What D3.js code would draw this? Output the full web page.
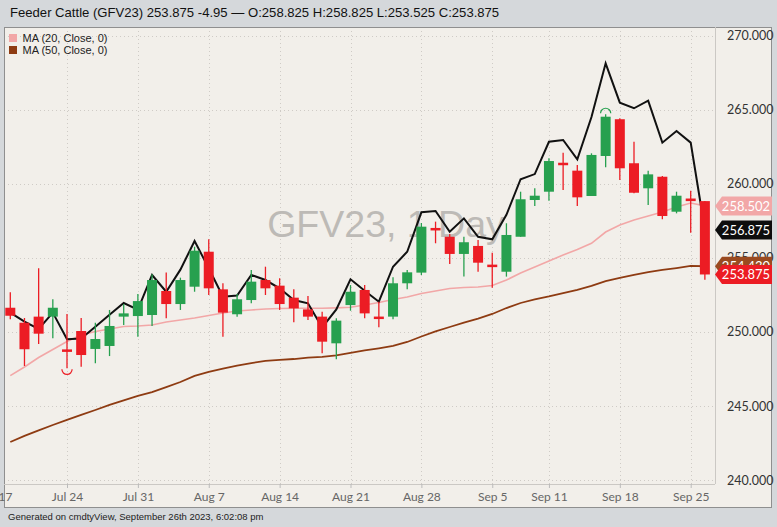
<!DOCTYPE html>
<html><head><meta charset="utf-8">
<script src="https://cdn.jsdelivr.net/npm/d3@7"></script>
<style>body{margin:0;background:#d5d8db;}svg{display:block}</style>
</head><body><svg id="c" width="777" height="527"></svg>
<script>
// ---------- DATA ----------
const dates = ["2023-07-18","2023-07-19","2023-07-20","2023-07-21","2023-07-24","2023-07-25","2023-07-26","2023-07-27","2023-07-28",
"2023-07-31","2023-08-01","2023-08-02","2023-08-03","2023-08-04","2023-08-07","2023-08-08","2023-08-09","2023-08-10","2023-08-11",
"2023-08-14","2023-08-15","2023-08-16","2023-08-17","2023-08-18","2023-08-21","2023-08-22","2023-08-23","2023-08-24","2023-08-25",
"2023-08-28","2023-08-29","2023-08-30","2023-08-31","2023-09-01","2023-09-05","2023-09-06","2023-09-07","2023-09-08",
"2023-09-11","2023-09-12","2023-09-13","2023-09-14","2023-09-15","2023-09-18","2023-09-19","2023-09-20","2023-09-21","2023-09-22",
"2023-09-25","2023-09-26"];
const open  = [251.63,250.62,251.03,251.03,248.78,250.06,248.85,249.05,251.03,251.07,251.14,252.76,251.88,253.05,255.41,252.87,251.19,252.15,253.50,
253.12,252.31,251.52,251.03,249.23,251.81,252.83,251.00,251.03,253.28,254.00,256.98,256.42,255.26,255.80,254.51,254.06,256.42,258.90,
259.46,261.40,260.88,259.17,261.87,264.35,261.38,259.69,260.47,258.11,259.00,258.825];
const high  = [252.67,250.94,254.29,252.20,251.20,250.94,250.62,251.48,251.88,252.56,253.89,254.00,253.66,255.75,256.25,253.28,252.56,254.18,254.40,
253.62,252.87,252.42,251.36,250.92,253.16,253.16,252.04,253.68,254.18,257.35,257.44,256.61,256.42,256.20,255.34,257.33,259.46,259.69,
261.71,262.09,261.26,262.05,264.68,264.41,262.83,260.88,260.52,259.46,259.53,258.825];
const low   = [250.85,247.70,249.18,249.57,247.54,247.65,247.88,248.37,250.47,249.68,250.40,250.92,251.48,252.71,252.49,249.68,251.03,251.93,252.49,
251.48,250.65,250.80,248.56,248.15,251.43,250.92,250.31,250.85,252.87,253.84,255.98,254.58,253.73,254.06,252.98,253.73,256.42,258.50,
258.85,259.57,258.50,259.17,261.11,260.25,259.35,258.56,257.60,258.00,256.69,253.525];
const close = [251.09,248.83,249.88,251.63,248.69,248.44,249.52,250.40,251.25,252.08,253.50,251.88,253.50,255.48,252.94,251.30,252.20,253.39,252.94,
251.88,251.59,251.03,249.34,250.76,252.71,251.25,250.90,253.28,254.02,257.10,256.88,255.26,256.05,254.67,254.40,256.54,258.95,259.19,
261.53,261.26,259.08,261.94,264.52,261.04,259.39,260.63,257.82,259.19,258.825,253.875];
const indexLine = [251.3,250.7,250.2,251.3,249.5,249.55,250.35,251.15,251.95,251.5,253.84,252.71,254.2,256.13,254.3,252.38,252.45,253.85,253.5,
252.94,252.15,251.93,250.3,251.52,253.55,252.78,252.04,254.40,255.41,258.07,258.16,256.76,257.66,256.42,256.25,257.9,260.30,260.65,
262.83,262.95,261.65,264.5,268.12,265.47,265.09,265.60,262.77,263.56,262.77,256.875];
const ma20 = [247.05,247.63,248.27,248.81,249.35,249.79,250.03,250.20,250.36,250.40,250.47,250.67,250.80,250.94,251.11,251.28,251.41,251.48,251.55,
251.58,251.60,251.60,251.60,251.62,251.66,251.81,251.98,252.19,252.36,252.59,252.76,252.93,253.00,253.03,253.13,253.50,253.97,254.38,
254.78,255.19,255.56,255.98,256.74,257.21,257.55,257.82,258.09,258.43,258.70,258.502];
const ma50 = [242.57,242.98,243.35,243.72,244.06,244.40,244.73,245.07,245.38,245.68,245.94,246.28,246.62,247.03,247.30,247.53,247.73,247.90,248.04,
248.11,248.17,248.27,248.31,248.41,248.58,248.75,248.89,249.05,249.32,249.69,250.03,250.33,250.63,250.90,251.21,251.61,251.95,252.19,
252.39,252.62,252.83,253.10,253.43,253.64,253.84,254.04,254.18,254.31,254.45,254.43];
const tickDates  = ["2023-07-17","2023-07-24","2023-07-31","2023-08-07","2023-08-14","2023-08-21","2023-08-28","2023-09-05","2023-09-11","2023-09-18","2023-09-25"];
const tickLabels = ["Jul 17","Jul 24","Jul 31","Aug 7","Aug 14","Aug 21","Aug 28","Sep 5","Sep 11","Sep 18","Sep 25"];
const priceTicks = [240,245,250,255,260,265,270];
const titleText = "Feeder Cattle (GFV23) 253.875 -4.95 \u2014 O:258.825 H:258.825 L:253.525 C:253.875";
const legendItems = ["MA (20, Close, 0)","MA (50, Close, 0)"];
const watermark = "GFV23, 1 Day";
const footer = "Generated on cmdtyView, September 26th 2023, 6:02:08 pm";

// ---------- LAYOUT ----------
const svg = d3.select("#c");
const P = {l:4, r:715, t:27, b:484};
const x = d3.scaleLinear().domain([4,48]).range([67,690.7]);
const y = d3.scaleLinear().domain([240,270]).range([480.1,35.5]);
const idx = d => { const i = dates.indexOf(d); return i >= 0 ? i : -1; };
const C = {up:"#27a04f", dn:"#ec1c24", ma20:"#f2a7a7", ma50:"#8e3b12", idx:"#111"};

svg.append("rect").attr("width",777).attr("height",527).attr("fill","#d5d8db");
svg.append("text").attr("x",10).attr("y",17).attr("font-family","Liberation Sans, Arial, sans-serif")
  .attr("font-size",13.1).attr("fill","#111").text(titleText);
svg.append("rect").attr("x",4.5).attr("y",27.5).attr("width",767).attr("height",480)
  .attr("fill","#f2efea").attr("stroke","#8f8f8f");

svg.append("clipPath").attr("id","pc").append("rect").attr("x",P.l+1).attr("y",P.t+1).attr("width",P.r-P.l-1).attr("height",P.b-P.t-1);
const g = svg.append("g").attr("clip-path","url(#pc)");

// grid
g.selectAll(".hg").data(priceTicks).join("line").attr("x1",P.l).attr("x2",P.r)
  .attr("y1",d=>Math.round(y(d))+0.5).attr("y2",d=>Math.round(y(d))+0.5)
  .attr("stroke","#cfcbc6").attr("stroke-dasharray","1,3");
g.selectAll(".vg").data(tickDates).join("line").attr("y1",P.t).attr("y2",P.b)
  .attr("x1",d=>Math.round(x(idx(d)))+0.5).attr("x2",d=>Math.round(x(idx(d)))+0.5)
  .attr("stroke","#cfcbc6").attr("stroke-dasharray","1,3");

// watermark
g.append("text").attr("x",386).attr("y",236.5).attr("text-anchor","middle")
  .attr("font-family","Liberation Sans, Arial, sans-serif").attr("font-size",37.5)
  .attr("fill","#bdbab6").text(watermark);

// plot frame lines
svg.append("line").attr("x1",P.r+0.5).attr("x2",P.r+0.5).attr("y1",P.t).attr("y2",P.b).attr("stroke","#cbc8c4");
svg.append("line").attr("x1",P.l).attr("x2",P.r).attr("y1",P.b+0.5).attr("y2",P.b+0.5).attr("stroke","#cbc8c4");

const line = arr => d3.line().x((d,i)=>x(i)).y(d=>y(d))(arr);
g.append("path").attr("d",line(ma50)).attr("fill","none").attr("stroke",C.ma50).attr("stroke-width",1.8);
g.append("path").attr("d",line(ma20)).attr("fill","none").attr("stroke",C.ma20).attr("stroke-width",1.6);
g.append("path").attr("d",line(indexLine)).attr("fill","none").attr("stroke",C.idx).attr("stroke-width",2).attr("stroke-linejoin","miter");

// candles
const cd = dates.map((d,i)=>({i,o:open[i],h:high[i],l:low[i],c:close[i]}));
const col = d => d.c >= d.o ? C.up : C.dn;
const cg = g.selectAll(".cd").data(cd).join("g");
cg.append("line").attr("x1",d=>x(d.i)).attr("x2",d=>x(d.i)).attr("y1",d=>y(d.h)).attr("y2",d=>y(d.l))
  .attr("stroke",col).attr("stroke-width",1.3);
cg.append("rect").attr("x",d=>x(d.i)-5).attr("width",10)
  .attr("y",d=>{const t=y(Math.max(d.o,d.c)),b=y(Math.min(d.o,d.c));return b-t<2.5?(t+b)/2-1.25:t;})
  .attr("height",d=>Math.max(2.5,Math.abs(y(d.o)-y(d.c))))
  .attr("fill",col);

// extreme markers
const iLo = d3.minIndex(low), iHi = d3.maxIndex(high);
const arc = d3.arc().innerRadius(4.5).outerRadius(5.7);
g.append("path").attr("transform",`translate(${x(iLo)},${y(low[iLo])+1})`)
  .attr("d",arc({startAngle:Math.PI/2,endAngle:Math.PI*1.5})).attr("fill",C.dn);
g.append("path").attr("transform",`translate(${x(iHi)},${y(high[iHi])-1})`)
  .attr("d",arc({startAngle:-Math.PI/2,endAngle:Math.PI/2})).attr("fill",C.up);

// legend
const lg = svg.append("g");
legendItems.forEach((t,k)=>{
  lg.append("rect").attr("x",9).attr("y",34+k*12).attr("width",8).attr("height",8).attr("fill",k?C.ma50:C.ma20);
  lg.append("text").attr("x",22.5).attr("y",42+k*12).attr("font-family","Liberation Sans, Arial, sans-serif")
    .attr("font-size",11).attr("fill","#222").text(t);
});

// x axis
const xa = svg.append("g").attr("transform",`translate(0,${P.b})`)
  .call(d3.axisBottom(x).tickValues(tickDates.map(idx)).tickSize(4).tickSizeOuter(0)
    .tickFormat((d,k)=>tickLabels[k]));
xa.select(".domain").remove();
xa.selectAll(".tick line").attr("stroke","#bbb");
xa.selectAll(".tick text").attr("font-family","Lato, sans-serif").attr("font-size",12).attr("fill","#666").attr("dy","0.85em");

// y axis
const ya = svg.append("g").attr("transform",`translate(${P.r},0)`)
  .call(d3.axisRight(y).tickValues(priceTicks).tickSize(0).tickFormat(d3.format(".3f")));
ya.select(".domain").remove();
ya.selectAll(".tick text").attr("x",12).attr("font-family","Lato, sans-serif").attr("font-size",12.5).attr("fill","#333");

// price tags
const tags = [
  {v:ma20[ma20.length-1], fill:C.ma20},
  {v:indexLine[indexLine.length-1], fill:"#0d0d0d"},
  {v:ma50[ma50.length-1], fill:"#9a4a20"},
  {v:close[close.length-1], fill:C.dn}
];
tags.forEach(t=>{
  const cy = y(t.v), h = 19, x0 = P.r, x1 = 722, x2 = 772;
  svg.append("path").attr("d",`M${x0},${cy}L${x1},${cy-h/2}L${x2},${cy-h/2}L${x2},${cy+h/2}L${x1},${cy+h/2}Z`).attr("fill",t.fill);
  svg.append("text").attr("x",746).attr("y",cy).attr("dy","0.36em").attr("text-anchor","middle")
    .attr("font-family","Lato, sans-serif").attr("font-size",13).attr("fill","#fff").text(d3.format(".3f")(t.v));
});

// footer
svg.append("text").attr("x",8).attr("y",520).attr("font-family","Liberation Sans, Arial, sans-serif")
  .attr("font-size",9.5).attr("fill","#222").text(footer);
</script></body></html>
